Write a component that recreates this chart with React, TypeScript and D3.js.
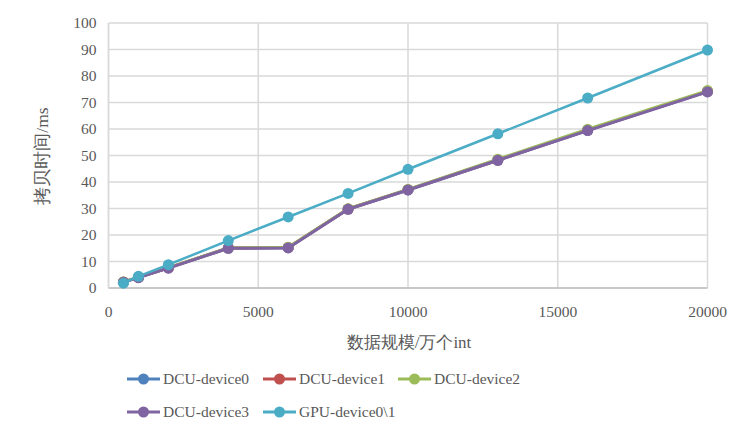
import React from "react";
import * as d3 from "d3";

const xValues = [500, 1000, 2000, 4000, 6000, 8000, 10000, 13000, 16000, 20000];
const dcu0 = [2.2, 4.0, 7.6, 15.0, 15.2, 29.8, 37.0, 48.2, 59.5, 74.1];
const dcu1 = [2.3, 4.0, 7.6, 15.1, 15.3, 29.8, 37.1, 48.3, 59.6, 74.2];
const dcu2 = [2.3, 4.1, 7.7, 15.1, 15.4, 29.9, 37.2, 48.6, 59.9, 74.5];
const dcu3 = [2.2, 3.9, 7.5, 15.0, 15.1, 29.7, 37.0, 48.2, 59.4, 74.0];
const gpu = [1.8, 4.4, 8.8, 17.9, 26.8, 35.7, 44.8, 58.2, 71.7, 89.8];
const seriesNames = ["DCU-device0", "DCU-device1", "DCU-device2", "DCU-device3", "GPU-device0\\1"];
const seriesColors = ["#4F81BD", "#C0504D", "#9BBB59", "#8064A2", "#4BACC6"];
const xTicks = [0, 5000, 10000, 15000, 20000];
const yTicks = [0, 10, 20, 30, 40, 50, 60, 70, 80, 90, 100];

const seriesValues = [dcu0, dcu1, dcu2, dcu3, gpu];

export default function App() {
  const W = 755, H = 438;
  const left = 108.5, right = 707.5, top = 23, bottom = 288;
  const x = d3.scaleLinear().domain([0, 20000]).range([left, right]);
  const y = d3.scaleLinear().domain([0, 100]).range([bottom, top]);
  const line = d3.line<[number, number]>().x(d => x(d[0])).y(d => y(d[1]));
  const fontStyle = { fontFamily: '"Liberation Serif", "Times New Roman", Times, serif' };
  const textColor = "#595959";

  const legendItems = [
    { lx: 127, ly: 379 },
    { lx: 263, ly: 379 },
    { lx: 398, ly: 379 },
    { lx: 127, ly: 412 },
    { lx: 263, ly: 412 },
  ];

  return (
    <svg width={W} height={H} style={{ position: "absolute", left: 0, top: 0, background: "#fff" }}>
      {yTicks.map(t => (
        <line key={"gy" + t} x1={left} x2={right} y1={y(t)} y2={y(t)} stroke="#D9D9D9" strokeWidth={1.5} />
      ))}
      {xTicks.map(t => (
        <line key={"gx" + t} x1={x(t)} x2={x(t)} y1={top} y2={bottom} stroke="#D9D9D9" strokeWidth={1.5} />
      ))}
      <line x1={left} x2={right} y1={bottom} y2={bottom} stroke="#BFBFBF" strokeWidth={1.5} />
      <line x1={left} x2={left} y1={top} y2={bottom} stroke="#D9D9D9" strokeWidth={1.5} />
      <g style={fontStyle} fill={textColor}>
        {yTicks.map(t => (
          <text key={"ty" + t} x={left - 12} y={y(t)} dy="0.35em" textAnchor="end" fontSize={15.5}>{t}</text>
        ))}
        {xTicks.map(t => (
          <text key={"tx" + t} x={x(t)} y={312} dy="0.35em" textAnchor="middle" fontSize={15.5}>{t}</text>
        ))}
        <text x={(left + right) / 2 + 1} y={342} dy="0.35em" textAnchor="middle" fontSize={17}>数据规模/万个int</text>
        <text transform={`translate(42,156) rotate(-90)`} textAnchor="middle" dy="0.35em" fontSize={17.5}>拷贝时间/ms</text>
      </g>
      {seriesValues.map((vals, i) => {
        const pts: [number, number][] = xValues.map((xv, j) => [xv, vals[j]]);
        return (
          <g key={"s" + i}>
            <path d={line(pts) || ""} fill="none" stroke={seriesColors[i]} strokeWidth={i === 4 ? 2.5 : 3} strokeLinejoin="round" />
            {pts.map((p, j) => (
              <circle key={j} cx={x(p[0])} cy={y(p[1])} r={5.5} fill={seriesColors[i]} />
            ))}
          </g>
        );
      })}
      {legendItems.map((it, i) => (
        <g key={"l" + i}>
          <line x1={it.lx} x2={it.lx + 33} y1={it.ly} y2={it.ly} stroke={seriesColors[i]} strokeWidth={3} />
          <circle cx={it.lx + 16.5} cy={it.ly} r={5.5} fill={seriesColors[i]} />
          <text x={it.lx + 36} y={it.ly} dy="0.35em" style={fontStyle} fontSize={15.5} fill={textColor}>{seriesNames[i]}</text>
        </g>
      ))}
    </svg>
  );
}
